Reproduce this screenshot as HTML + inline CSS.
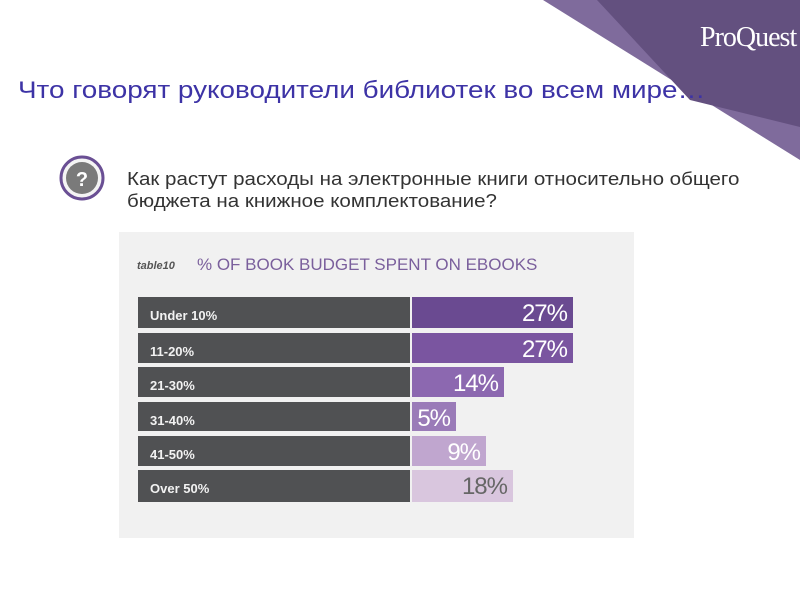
<!DOCTYPE html>
<html><head><meta charset="utf-8"><style>
body{margin:0;width:800px;height:600px;background:#fff;position:relative;overflow:hidden;font-family:"Liberation Sans",sans-serif}
.t{position:absolute;white-space:nowrap;transform-origin:0 0}
.row{position:absolute;left:138px;height:30px}
.dk{position:absolute;left:0;width:272px;height:100%;background:#505153;color:#f2f2f2;font:bold 13px "Liberation Sans Narrow","Liberation Sans",sans-serif;line-height:38px;padding-left:12px;box-sizing:border-box}
.pv{position:absolute;left:274px;height:100%;color:#fff;font:24px "Liberation Sans Narrow","Liberation Sans",sans-serif;letter-spacing:-1px;line-height:34px;text-align:right;padding-right:6px;box-sizing:border-box;overflow:visible}
</style></head><body>
<svg width="800" height="600" style="position:absolute;left:0;top:0">
<polygon points="543,0 800,0 800,160" fill="#7f6b9c"/>
<polygon points="597,0 800,0 800,127 690,100" fill="#63507f"/>
<rect x="119" y="232" width="515" height="306" fill="#f1f1f1"/>
<circle cx="82" cy="178" r="21" fill="#f4f4f4" stroke="#6a4f94" stroke-width="3"/>
<circle cx="82" cy="178" r="16" fill="#7a7a7a"/>
<text x="82" y="186" fill="#fff" font-family="Liberation Sans" font-size="20" font-weight="bold" text-anchor="middle">?</text>
</svg>
<div class="t" style="left:700px;top:22px;color:#fff;font:28px 'Liberation Serif',serif;letter-spacing:-1px">ProQuest</div>
<div class="t" style="left:18px;top:77px;font-size:24px;color:#3d33a6;transform:scaleX(1.16)">Что говорят руководители библиотек во всем мире…</div>
<div class="t" style="left:127px;top:168px;font-size:18px;color:#333;line-height:22px;transform:scaleX(1.14)">Как растут расходы на электронные книги относительно общего<br>бюджета на книжное комплектование?</div>
<div class="t" style="left:137px;top:260px;font:italic bold 11px 'Liberation Sans',sans-serif;color:#555">table10</div>
<div class="t" style="left:197px;top:255px;font-size:17px;color:#7a5f9c">% OF BOOK BUDGET SPENT ON EBOOKS</div>
<div class="row" style="top:297px;height:31px"><div class="dk">Under 10%</div><div class="pv" style="width:161px;background:#6a4a91">27%</div></div>
<div class="row" style="top:333px"><div class="dk">11-20%</div><div class="pv" style="width:161px;background:#7a55a0">27%</div></div>
<div class="row" style="top:367px"><div class="dk">21-30%</div><div class="pv" style="width:92px;background:#8c68b0">14%</div></div>
<div class="row" style="top:402px;height:29px"><div class="dk">31-40%</div><div class="pv" style="width:44px;background:#9a7bb8">5%</div></div>
<div class="row" style="top:436px"><div class="dk">41-50%</div><div class="pv" style="width:74px;background:#c0a6cf">9%</div></div>
<div class="row" style="top:470px;height:32px"><div class="dk">Over 50%</div><div class="pv" style="width:101px;background:#d9c6de;color:#666">18%</div></div>
</body></html>
